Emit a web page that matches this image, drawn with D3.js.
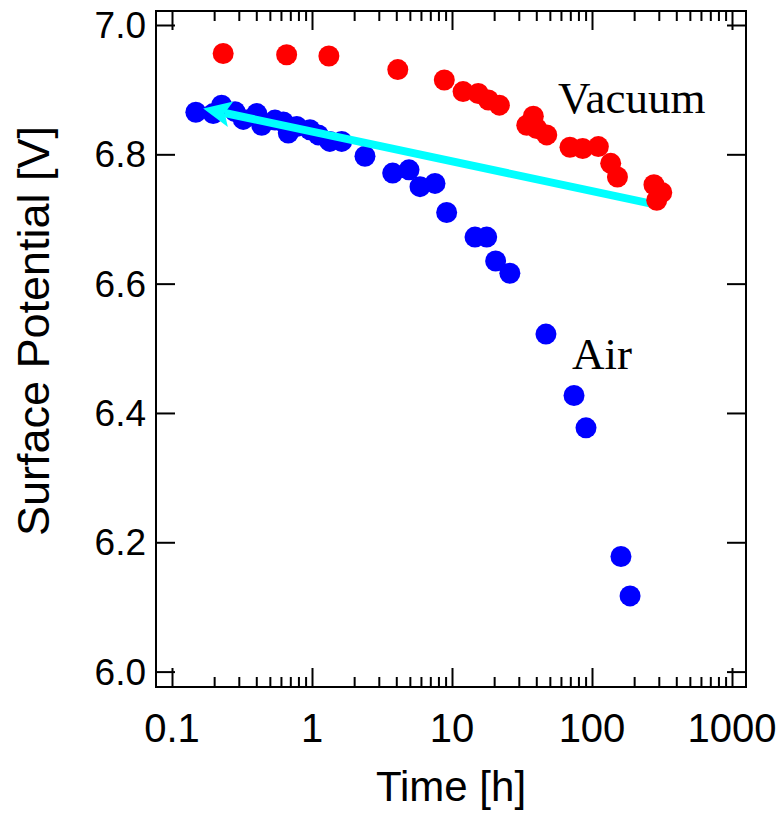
<!DOCTYPE html>
<html>
<head>
<meta charset="utf-8">
<script src="https://cdn.jsdelivr.net/npm/d3@7/dist/d3.min.js"></script>
<style>
  html, body { margin: 0; padding: 0; background: #fff; }
  svg { display: block; }
</style>
</head>
<body>
<svg id="chart" width="780" height="815"></svg>
<script>
// Surface potential decay vs. storage time (log time axis)
const airTime = [0.148, 0.197, 0.226, 0.282, 0.323, 0.403, 0.437, 0.544, 0.624, 0.677,
                 0.778, 0.967, 1.11, 1.34, 1.63, 2.39, 3.77, 4.93, 5.91, 7.56,
                 9.16, 14.6, 17.7, 20.5, 25.9, 46.9, 74.4, 90.6, 161, 187];
const airPotential = [6.865, 6.863, 6.876, 6.866, 6.854, 6.863, 6.845, 6.853, 6.850, 6.833,
                      6.843, 6.838, 6.830, 6.820, 6.820, 6.797, 6.771, 6.776, 6.750, 6.755,
                      6.710, 6.672, 6.672, 6.635, 6.616, 6.522, 6.427, 6.377, 6.178, 6.117];

const vacuumTime = [0.232, 0.659, 1.32, 4.10, 8.81, 12.0, 15.4, 18.2, 21.8, 38.1,
                    34.2, 40.3, 47.5, 69.6, 85.8, 111, 136, 152, 277, 315, 290];
const vacuumPotential = [6.956, 6.954, 6.952, 6.931, 6.915, 6.897, 6.894, 6.884, 6.876, 6.859,
                         6.845, 6.840, 6.830, 6.811, 6.809, 6.812, 6.786, 6.765, 6.753, 6.741, 6.729];

// Trend arrow: from the last vacuum point back to the first air point
const arrowTime = [259, 0.167];
const arrowPotential = [6.724, 6.871];

const xTickValues = [0.1, 1, 10, 100, 1000];
const xTickLabels = ["0.1", "1", "10", "100", "1000"];
const yTickValues = [6.0, 6.2, 6.4, 6.6, 6.8, 7.0];
const yTickLabels = ["6.0", "6.2", "6.4", "6.6", "6.8", "7.0"];

const svg = d3.select("#chart");
const plotLeft = 156, plotRight = 746, plotTop = 11, plotBottom = 687;

const x = d3.scaleLog()
  .domain([Math.pow(10, -1 - 16 / 140), Math.pow(10, 3 + 14 / 140)])
  .range([plotLeft, plotRight]);
const y = d3.scaleLinear()
  .domain([6.0 - 15.4 / 646.6, 7.0 + 14 / 646.6])
  .range([plotBottom, plotTop]);

const sans = "'Liberation Sans', Arial, Helvetica, sans-serif";
const serif = "'Liberation Serif', 'Times New Roman', serif";

// minor ticks on the log axis: 2..9 within each decade
const minorTicks = [];
for (let d = 0.1; d < 1000; d *= 10) {
  for (let k = 2; k <= 9; k++) minorTicks.push(+(d * k).toPrecision(3));
}

const majorLen = 19, minorLen = 10;

// bottom axis (ticks inside)
svg.append("g").attr("transform", `translate(0,${plotBottom})`)
  .call(d3.axisBottom(x).tickValues(xTickValues).tickFormat(() => "").tickSize(-majorLen).tickSizeOuter(0))
  .call(g => g.select(".domain").remove());
svg.append("g").attr("transform", `translate(0,${plotBottom})`)
  .call(d3.axisBottom(x).tickValues(minorTicks).tickFormat(() => "").tickSize(-minorLen).tickSizeOuter(0))
  .call(g => g.select(".domain").remove());
// top axis mirrored
svg.append("g").attr("transform", `translate(0,${plotTop})`)
  .call(d3.axisTop(x).tickValues(xTickValues).tickFormat(() => "").tickSize(-majorLen).tickSizeOuter(0))
  .call(g => g.select(".domain").remove());
svg.append("g").attr("transform", `translate(0,${plotTop})`)
  .call(d3.axisTop(x).tickValues(minorTicks).tickFormat(() => "").tickSize(-minorLen).tickSizeOuter(0))
  .call(g => g.select(".domain").remove());
// left and right axes
svg.append("g").attr("transform", `translate(${plotLeft},0)`)
  .call(d3.axisLeft(y).tickValues(yTickValues).tickFormat(() => "").tickSize(-majorLen).tickSizeOuter(0))
  .call(g => g.select(".domain").remove());
svg.append("g").attr("transform", `translate(${plotRight},0)`)
  .call(d3.axisRight(y).tickValues(yTickValues).tickFormat(() => "").tickSize(-majorLen).tickSizeOuter(0))
  .call(g => g.select(".domain").remove());

svg.selectAll(".tick line").attr("stroke", "#000").attr("stroke-width", 2);

// tick labels
svg.append("g").selectAll("text").data(xTickValues).join("text")
  .attr("x", d => x(d)).attr("y", 742)
  .attr("text-anchor", "middle")
  .attr("font-family", sans).attr("font-size", 40)
  .text((d, i) => xTickLabels[i]);
svg.append("g").selectAll("text").data(yTickValues).join("text")
  .attr("x", plotLeft - 10).attr("y", d => y(d) + 13)
  .attr("text-anchor", "end")
  .attr("font-family", sans).attr("font-size", 37)
  .text((d, i) => yTickLabels[i]);

// axis titles
svg.append("text")
  .attr("x", (plotLeft + plotRight) / 2).attr("y", 801)
  .attr("text-anchor", "middle")
  .attr("font-family", sans).attr("font-size", 42)
  .text("Time [h]");
svg.append("text")
  .attr("transform", `translate(49,331) rotate(-90)`)
  .attr("text-anchor", "middle")
  .attr("font-family", sans).attr("font-size", 45)
  .text("Surface Potential [V]");

const r = 10.5;
// air series
svg.append("g").selectAll("circle").data(airTime).join("circle")
  .attr("cx", d => x(d)).attr("cy", (d, i) => y(airPotential[i]))
  .attr("r", r).attr("fill", "#0000ff");

// trend arrow
const x0 = x(arrowTime[0]), y0 = y(arrowPotential[0]);
const x1 = x(arrowTime[1]), y1 = y(arrowPotential[1]);
const ang = Math.atan2(y1 - y0, x1 - x0);
const headLen = 28, headHalf = 13, notch = 6;
const ux = Math.cos(ang), uy = Math.sin(ang), nx = -uy, ny = ux;
const bx = x1 - ux * headLen, by = y1 - uy * headLen;
svg.append("line")
  .attr("x1", x0).attr("y1", y0)
  .attr("x2", x1 - ux * (headLen - notch)).attr("y2", y1 - uy * (headLen - notch))
  .attr("stroke", "#00ffff").attr("stroke-width", 8);
svg.append("path")
  .attr("d", `M${x1},${y1} L${bx + nx * headHalf},${by + ny * headHalf} L${x1 - ux * (headLen - notch)},${y1 - uy * (headLen - notch)} L${bx - nx * headHalf},${by - ny * headHalf} Z`)
  .attr("fill", "#00ffff");

// vacuum series
svg.append("g").selectAll("circle").data(vacuumTime).join("circle")
  .attr("cx", d => x(d)).attr("cy", (d, i) => y(vacuumPotential[i]))
  .attr("r", r).attr("fill", "#ff0000");

// plot frame
svg.append("rect")
  .attr("x", plotLeft).attr("y", plotTop)
  .attr("width", plotRight - plotLeft).attr("height", plotBottom - plotTop)
  .attr("fill", "none").attr("stroke", "#000").attr("stroke-width", 2);

// series labels
svg.append("text").attr("x", 558).attr("y", 113)
  .attr("font-family", serif).attr("font-size", 45)
  .text("Vacuum");
svg.append("text").attr("x", 572).attr("y", 369)
  .attr("font-family", serif).attr("font-size", 45)
  .text("Air");
</script>
</body>
</html>
